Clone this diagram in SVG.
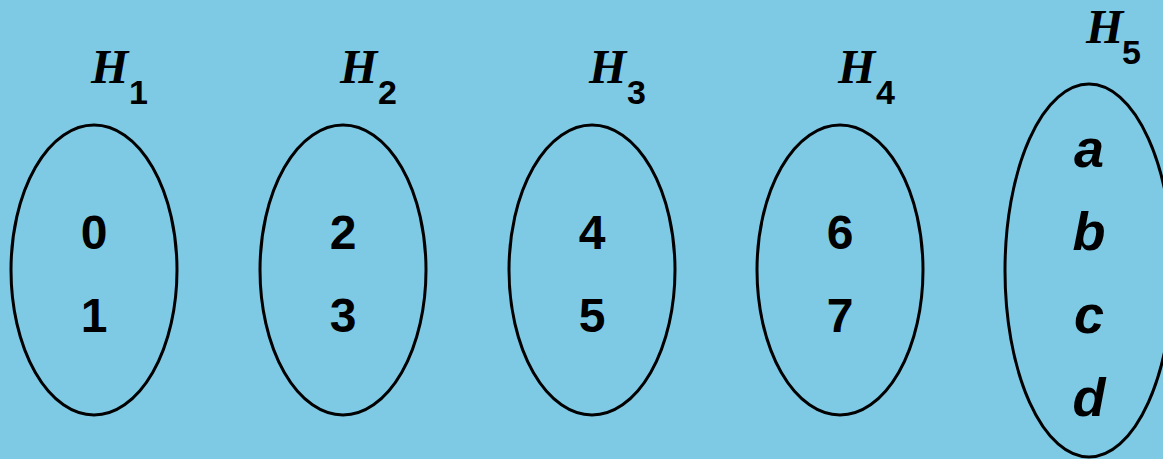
<svg xmlns="http://www.w3.org/2000/svg" width="1163" height="459" viewBox="0 0 1163 459">
<style>
.set{fill:none;stroke:#000;stroke-width:3}
.h{font-family:"Liberation Serif","Times New Roman",serif;font-weight:bold;font-style:italic;font-size:48px;fill:#000}
.sub{font-family:"Liberation Sans",Arial,sans-serif;font-weight:bold;font-size:34px;fill:#000}
.el{font-family:"Liberation Sans",Arial,sans-serif;font-weight:bold;font-size:48px;fill:#000;text-anchor:middle}
.it{font-style:italic;font-size:54px}
</style>
<rect width="1163" height="459" fill="#7ecae5"/>
<g id="H1">
<ellipse class="set" cx="94" cy="270" rx="83" ry="145"/>
<text class="h" x="91" y="83">H</text><text class="sub" x="129" y="104">1</text>
<text class="el" x="94" y="249">0</text>
<text class="el" x="94" y="332">1</text>
</g>
<g id="H2">
<ellipse class="set" cx="343" cy="270" rx="83" ry="145"/>
<text class="h" x="340" y="83">H</text><text class="sub" x="378" y="104">2</text>
<text class="el" x="343" y="249">2</text>
<text class="el" x="343" y="332">3</text>
</g>
<g id="H3">
<ellipse class="set" cx="592" cy="270" rx="83" ry="145"/>
<text class="h" x="589" y="83">H</text><text class="sub" x="627" y="104">3</text>
<text class="el" x="592" y="249">4</text>
<text class="el" x="592" y="332">5</text>
</g>
<g id="H4">
<ellipse class="set" cx="840" cy="270" rx="83" ry="145"/>
<text class="h" x="838" y="83">H</text><text class="sub" x="876" y="104">4</text>
<text class="el" x="840" y="249">6</text>
<text class="el" x="840" y="332">7</text>
</g>
<g id="H5">
<ellipse class="set" cx="1089" cy="270.5" rx="84" ry="186.5"/>
<text class="h" x="1086" y="43">H</text><text class="sub" x="1122" y="64">5</text>
<text class="el it" x="1089" y="167">a</text>
<text class="el it" x="1089" y="250">b</text>
<text class="el it" x="1089" y="333">c</text>
<text class="el it" x="1089" y="416">d</text>
</g>
<g id="connectors"/>
</svg>
